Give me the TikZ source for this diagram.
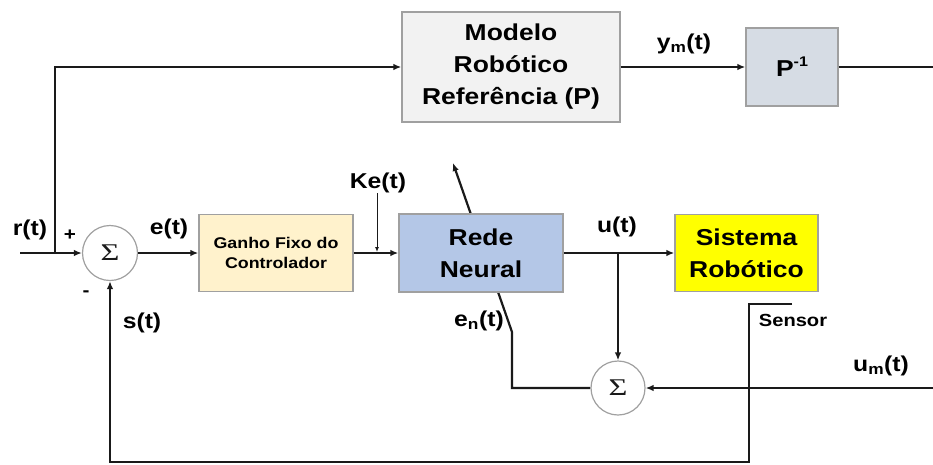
\documentclass[tikz,border=0pt]{standalone}
\usepackage{fontspec}
\setmainfont{Liberation Sans}[FakeStretch=1.15]
\newfontfamily\sigmafont{Liberation Serif}[FakeStretch=1.35]
\usetikzlibrary{arrows.meta,backgrounds}

\definecolor{linecol}{HTML}{1A1A1A}
\definecolor{boxgray}{HTML}{A0A0A0}
\definecolor{modelfill}{HTML}{F2F2F2}
\definecolor{pinvfill}{HTML}{D6DCE4}
\definecolor{ganhofill}{HTML}{FFF2CC}
\definecolor{redefill}{HTML}{B4C7E7}
\definecolor{sistfill}{HTML}{FFFF00}

\tikzset{
  block/.style={draw=boxgray, line width=1.3pt, align=center, inner sep=0pt,
    text=black, font=\bfseries\fontsize{23}{32}\selectfont},
  sumnode/.style={circle, draw=boxgray, line width=1.2pt, fill=white,
    minimum size=55pt, inner sep=0pt, text=linecol,
    font=\sigmafont\fontsize{24}{24}\selectfont},
  sig/.style={draw=linecol, line width=2.2pt},
  arr/.style={sig, -{Latex[length=8pt,width=6.5pt]}},
  thinarr/.style={draw=linecol, line width=1pt, -{Latex[length=5pt,width=4pt]}},
  lbl/.style={inner sep=0pt, text=black, font=\bfseries\fontsize{21.5}{24}\selectfont},
  smalllbl/.style={inner sep=0pt, text=black, font=\bfseries\fontsize{17.5}{20}\selectfont}
}

\begin{document}
\begin{tikzpicture}[x=1pt,y=-1pt]
\useasboundingbox (0,0) rectangle (933,464);

% blocks
\node[block, fill=modelfill, minimum width=218pt, minimum height=110pt] (model) at (511,67)
  {Modelo\\Robótico\\Referência (P)};
\node[block, fill=pinvfill, minimum width=92pt, minimum height=78pt] (pinv) at (792,67)
  {P\raisebox{0.42em}{\fontsize{14}{14}\selectfont -1}};
\node[block, fill=ganhofill, minimum width=154pt, minimum height=77pt,
      font=\bfseries\fontsize{15.5}{20}\selectfont] (ganho) at (276,253)
  {Ganho Fixo do\\Controlador};
\node[block, fill=redefill, minimum width=164pt, minimum height=78pt] (rede) at (481,253)
  {Rede\\Neural};
\node[block, fill=sistfill, minimum width=143pt, minimum height=77pt] (sist) at (746.5,253)
  {Sistema\\Robótico};

% summing junctions
\node[sumnode] (s1) at (110,253) {Σ};
\node[sumnode, minimum size=54pt] (s2) at (618,388) {Σ};

% free ends and corners
\coordinate (rin) at (20,253);
\coordinate (rj) at (55,253);
\coordinate (ke) at (377,252);
\coordinate (ub) at (618,253);
\coordinate (umin) at (933,388);
\coordinate (pout) at (933,67);
\coordinate (enbend) at (512,332);
\coordinate (entip) at (453,163);
\coordinate (sens1) at (792,304);
\coordinate (sens2) at (749,304);
\coordinate (sbot) at (749,462);

% learning signal passes behind the network block
\begin{scope}[on background layer]
  \draw[arr] (s2.west) -| (enbend) -- (entip);
\end{scope}

% signal paths
\draw[arr] (rin) -- (s1.west);
\draw[arr] (rj) |- (model.west);
\draw[arr] (model.east) -- (pinv.west);
\draw[sig] (pinv.east) -- (pout);
\draw[arr] (s1.east) -- (ganho.west);
\draw[arr] (ganho.east) -- (rede.west);
\draw[arr] (rede.east) -- (sist.west);
\draw[arr] (ub) -- (s2.north);
\draw[arr] (umin) -- (s2.east);
\draw[arr] (sens1) -- (sens2) -- (sbot) -| (s1.south);

% labels
\node[lbl] (rl) at (30,230) {r(t)};
\node[lbl, font=\bfseries\fontsize{18}{18}\selectfont] (plus) at (70,235) {+};
\node[lbl, font=\bfseries\fontsize{18}{18}\selectfont] (minus) at (86,294) {-};
\node[lbl] (el) at (169,229) {e(t)};
\node[lbl] (sl) at (142,323) {s(t)};
\node[lbl] (kel) at (378,183) {Ke(t)};
\node[lbl] (ul) at (617,227) {u(t)};
\node[lbl] (yml) at (684,44) {y\textsubscript{m}(t)};
\node[lbl] (enl) at (479,321) {e\textsubscript{n}(t)};
\node[smalllbl] (sensl) at (793,320) {Sensor};
\node[lbl] (uml) at (881,366) {u\textsubscript{m}(t)};

\draw[thinarr] (kel.south -| ke) -- (ke);
\end{tikzpicture}
\end{document}
